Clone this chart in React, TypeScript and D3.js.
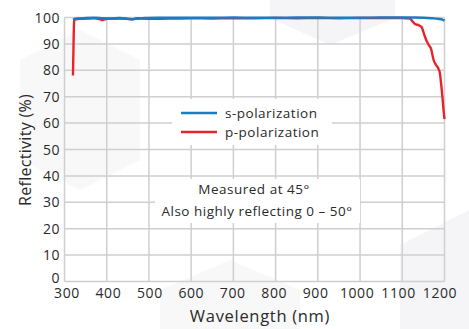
import React from "react";
import * as d3 from "d3";

const xTicks = [300, 400, 500, 600, 700, 800, 900, 1000, 1100, 1200];
const yTicks = [0, 10, 20, 30, 40, 50, 60, 70, 80, 90, 100];

const sWave = [320, 330, 350, 370, 390, 410, 430, 450, 460, 470, 490, 520, 560, 600, 650, 700, 750, 800, 850, 900, 950, 1000, 1050, 1100, 1130, 1150, 1170, 1185, 1195, 1200];
const sVal = [99.3, 99.6, 99.8, 99.9, 99.7, 99.6, 99.8, 99.5, 99.2, 99.7, 99.8, 99.9, 99.9, 99.9, 99.9, 100, 99.9, 99.9, 100, 100, 99.9, 99.9, 100, 100, 100, 99.9, 99.7, 99.5, 99.2, 98.8];

const pWave = [320, 321, 322, 323, 326, 340, 370, 385, 390, 400, 430, 460, 480, 520, 560, 600, 650, 700, 750, 800, 850, 900, 950, 1000, 1050, 1100, 1118, 1124, 1130, 1140, 1146, 1152, 1158, 1163, 1168, 1174, 1180, 1185, 1189, 1192, 1195, 1198, 1200];
const pVal = [78, 86, 95, 98.8, 99.3, 99.5, 99.7, 99.3, 99.0, 99.5, 99.6, 99.4, 99.6, 99.5, 99.6, 99.7, 99.6, 99.7, 99.7, 99.8, 99.7, 99.8, 99.7, 99.8, 99.8, 99.8, 99.6, 98.6, 97.5, 97.0, 96.3, 93.5, 91.0, 89.5, 88.2, 84.0, 82.0, 80.8, 79.0, 75.0, 70.0, 64.5, 61.5];

const W = 469;
const H = 329;
const x = d3.scaleLinear().domain([300, 1200]).range([64.5, 444.5]);
const xLabel = d3.scaleLinear().domain([300, 1200]).range([67, 440]);
const y = d3.scaleLinear().domain([0, 100]).range([281.5, 17.5]);

const FONT = "'Open Sans', 'Noto Sans', sans-serif";
const BLUE = "#1c7cc3";
const RED = "#e8232b";
const GRID = "#cfcfcf";
const TXT = "#2a2a2a";

export default function App() {
  const sLine = d3.line<number>().x((_, i) => x(sWave[i])).y((d) => y(d)).curve(d3.curveMonotoneX)(sVal) || "";
  const pLine = d3.line<number>().x((_, i) => x(pWave[i])).y((d) => y(d)).curve(d3.curveMonotoneX)(pVal) || "";
  return (
    <svg width={W} height={H} style={{ position: "absolute", left: 0, top: 0, background: "#fff" }}>
      {/* faint watermark shapes */}
      <polygon points="270,0 395,0 395,18 330,45 270,18" fill="#f5f5f7" />
      <polygon points="20,60 80,30 140,60 140,160 80,190 20,160" fill="#f8f8f9" />
      <polygon points="400,245 469,210 469,329 400,329" fill="#f5f5f7" />
      <polygon points="160,290 230,260 300,290 300,329 160,329" fill="#f8f8f9" />
      <g>
        {yTicks.map((t) => (
          <line key={"gy" + t} x1={x(300)} x2={x(1200)} y1={y(t)} y2={y(t)} stroke={GRID} strokeWidth={1.5} />
        ))}
        {xTicks.map((t) => (
          <line key={"gx" + t} x1={x(t)} x2={x(t)} y1={y(0)} y2={y(100)} stroke={GRID} strokeWidth={1.5} />
        ))}
      </g>
      {/* white boxes behind legend and annotation */}
      <rect x={172} y={99} width={160} height={46} fill="#fff" />
      <rect x={155} y={179} width={205} height={44} fill="#fff" />
      <path d={pLine} fill="none" stroke={RED} strokeWidth={2.4} strokeLinejoin="round" />
      <path d={sLine} fill="none" stroke={BLUE} strokeWidth={2.4} strokeLinejoin="round" />
      {yTicks.map((t) => (
        <text key={"ty" + t} x={60} y={y(t) + (t === 0 ? 1.5 : 5)} textAnchor="end" fontFamily={FONT} fontSize={14} letterSpacing={0.5} fill={TXT}>
          {t}
        </text>
      ))}
      {xTicks.map((t) => (
        <text key={"tx" + t} x={xLabel(t)} y={298} textAnchor="middle" fontFamily={FONT} fontSize={14} letterSpacing={0.6} fill={TXT}>
          {t}
        </text>
      ))}
      <text x={260} y={322} textAnchor="middle" fontFamily={FONT} fontSize={16.5} letterSpacing={0.7} fill={TXT}>
        Wavelength (nm)
      </text>
      <text transform={`translate(31,150) rotate(-90)`} textAnchor="middle" fontFamily={FONT} fontSize={16} letterSpacing={0.3} fill={TXT}>
        Reflectivity (%)
      </text>
      <line x1={181} x2={217} y1={113} y2={113} stroke={BLUE} strokeWidth={2.4} />
      <line x1={181} x2={217} y1={132} y2={132} stroke={RED} strokeWidth={2.4} />
      <text x={225} y={118} fontFamily={FONT} fontSize={13.5} letterSpacing={0.5} fill={TXT}>s-polarization</text>
      <text x={225} y={137} fontFamily={FONT} fontSize={13.5} letterSpacing={0.5} fill={TXT}>p-polarization</text>
      <text x={254} y={194} textAnchor="middle" fontFamily={FONT} fontSize={13.5} letterSpacing={0.5} fill={TXT}>Measured at 45°</text>
      <text x={257} y={216} textAnchor="middle" fontFamily={FONT} fontSize={13.5} letterSpacing={0.5} fill={TXT}>Also highly reflecting 0 – 50°</text>
    </svg>
  );
}
